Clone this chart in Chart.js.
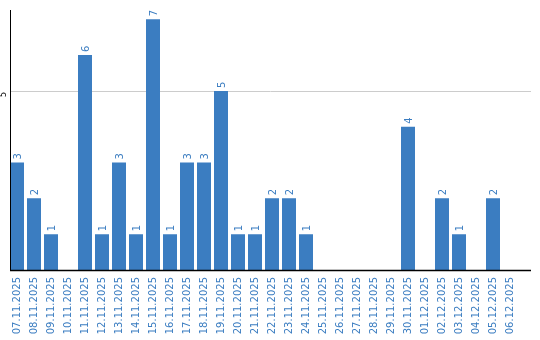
<!DOCTYPE html>
<html>
<head>
<meta charset="utf-8">
<script src="https://cdn.jsdelivr.net/npm/chart.js@4/dist/chart.umd.min.js"></script>
<style>
  html, body { margin: 0; padding: 0; background: #fff; }
</style>
</head>
<body>
<canvas id="chart" width="540" height="340"></canvas>
<script>
const days = ['07.11.2025', '08.11.2025', '09.11.2025', '10.11.2025', '11.11.2025', '12.11.2025',
    '13.11.2025', '14.11.2025', '15.11.2025', '16.11.2025', '17.11.2025', '18.11.2025',
    '19.11.2025', '20.11.2025', '21.11.2025', '22.11.2025', '23.11.2025', '24.11.2025',
    '25.11.2025', '26.11.2025', '27.11.2025', '28.11.2025', '29.11.2025', '30.11.2025',
    '01.12.2025', '02.12.2025', '03.12.2025', '04.12.2025', '05.12.2025', '06.12.2025'];
const counts = [3, 2, 1, 0, 6, 1, 3, 1, 7, 1, 3, 3, 5, 1, 1, 2, 2, 1, 0, 0, 0, 0, 0, 4, 0, 2, 1, 0, 2, 0];
const yTicks = [5];

const blue = '#3b7dc1';

// grid line, axis lines, y tick text and value labels
const decor = {
    id: 'decor',
    beforeDatasetsDraw(chart) {
        const ctx = chart.ctx;
        const y = chart.scales.y;
        ctx.save();
        ctx.strokeStyle = '#cccccc';
        ctx.lineWidth = 1;
        yTicks.forEach(t => {
            const py = Math.round(y.getPixelForValue(t)) + 0.5;
            ctx.beginPath();
            ctx.moveTo(10, py);
            ctx.lineTo(531, py);
            ctx.stroke();

            ctx.save();
            ctx.fillStyle = '#000';
            ctx.font = '8px "DejaVu Sans"';
            ctx.textAlign = 'center';
            ctx.textBaseline = 'middle';
            ctx.translate(4, py + 3);
            ctx.rotate(-Math.PI / 2);
            ctx.fillText(String(t), 0, 0);
            ctx.restore();
        });
        ctx.restore();
    },
    afterDatasetsDraw(chart) {
        const ctx = chart.ctx;
        const area = chart.chartArea;
        ctx.save();
        ctx.strokeStyle = '#000';
        ctx.lineWidth = 1;
        ctx.beginPath();
        ctx.moveTo(10.5, area.top);
        ctx.lineTo(10.5, area.bottom);
        ctx.stroke();
        ctx.lineWidth = 1.5;
        ctx.beginPath();
        ctx.moveTo(10, area.bottom + 0.5);
        ctx.lineTo(531, area.bottom + 0.5);
        ctx.stroke();

        const meta = chart.getDatasetMeta(0);
        ctx.fillStyle = blue;
        ctx.font = '10px "DejaVu Sans"';
        ctx.textAlign = 'left';
        ctx.textBaseline = 'middle';
        meta.data.forEach((bar, i) => {
            if (!counts[i]) return;
            ctx.save();
            ctx.translate(bar.x + 1, bar.y - 3);
            ctx.rotate(-Math.PI / 2);
            ctx.fillText(String(counts[i]), 0, 0);
            ctx.restore();
        });
        ctx.restore();
    }
};

new Chart(document.getElementById('chart'), {
    type: 'bar',
    data: {
        labels: days,
        datasets: [{
            data: counts,
            backgroundColor: blue,
            borderWidth: 0,
            barPercentage: 14 / 17,
            categoryPercentage: 1
        }]
    },
    options: {
        responsive: false,
        animation: false,
        devicePixelRatio: 1,
        layout: { padding: { left: 8.5, right: 21.5, top: 10, bottom: 0 } },
        plugins: { legend: { display: false }, tooltip: { enabled: false } },
        scales: {
            x: {
                grid: { display: false, drawTicks: false },
                border: { display: false },
                afterFit(scale) { scale.height = 70; },
                ticks: {
                    color: blue,
                    font: { family: 'DejaVu Sans', size: 10 },
                    autoSkip: false,
                    minRotation: 90,
                    maxRotation: 90,
                    padding: 7
                }
            },
            y: {
                display: false,
                min: 0,
                max: 7.26
            }
        }
    },
    plugins: [decor]
});
</script>
</body>
</html>
